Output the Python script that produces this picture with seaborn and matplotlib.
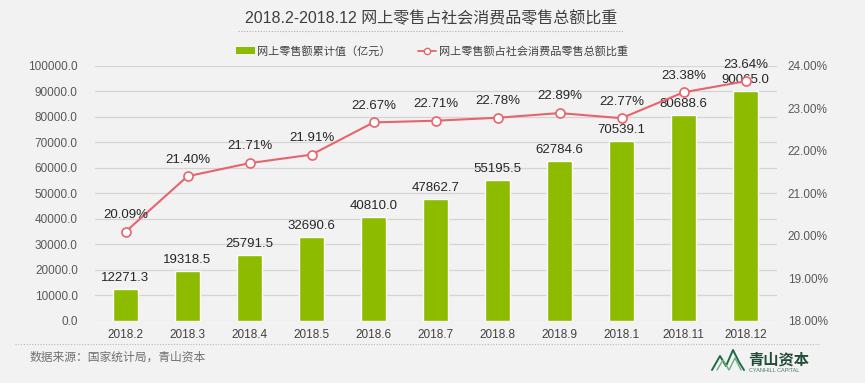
import matplotlib
matplotlib.use("Agg")
import matplotlib.pyplot as plt
import seaborn as sns
import pandas as pd
from matplotlib.lines import Line2D
from matplotlib.patches import Patch

categories = ["2018.2", "2018.3", "2018.4", "2018.5", "2018.6", "2018.7",
              "2018.8", "2018.9", "2018.1", "2018.11", "2018.12"]
online_sales = [12271.3, 19318.5, 25791.5, 32690.6, 40810.0, 47862.7,
                55195.5, 62784.6, 70539.1, 80688.6, 90065.0]
share_pct = [20.09, 21.40, 21.71, 21.91, 22.67, 22.71, 22.78, 22.89, 22.77, 23.38, 23.64]
left_ticks = [0, 10000, 20000, 30000, 40000, 50000, 60000, 70000, 80000, 90000, 100000]
right_ticks = [18, 19, 20, 21, 22, 23, 24]

title = "2018.2-2018.12 网上零售占社会消费品零售总额比重"
bar_label = "网上零售额累计值（亿元）"
line_label = "网上零售额占社会消费品零售总额比重"
source = "数据来源：国家统计局，青山资本"

BG = "#f2f2f2"
GREEN = "#8cbb00"
RED = "#e8646c"
TXT = "#404040"
TICK = "#595959"

sns.set_theme(style="white")
plt.rcParams["font.family"] = ["Liberation Sans", "Noto Sans CJK SC", "DejaVu Sans"]

df = pd.DataFrame({"month": categories, "sales": online_sales, "share": share_pct})

fig = plt.figure(figsize=(8.65, 3.83), dpi=100, facecolor=BG)
ax = fig.add_axes([94.5 / 865, 1 - 320.5 / 383, (776.5 - 94.5) / 865, (320.5 - 66) / 383])
ax.set_facecolor(BG)

sns.barplot(data=df, x="month", y="sales", color=GREEN, width=0.4, saturation=1,
            ax=ax, zorder=2)
ax.set_ylim(0, 100000)
ax.set_xlim(-0.5, len(categories) - 0.5)
ax.set_yticks(left_ticks)
ax.set_yticklabels([f"{v:.1f}" for v in left_ticks], color=TICK, fontsize=8.5)
ax.tick_params(axis="x", colors=TXT, labelsize=8.5, length=0, pad=6)
ax.tick_params(axis="y", length=0, pad=12)
ax.grid(axis="y", color="#d4d4d4", linewidth=0.9, zorder=0)
ax.set_axisbelow(True)
ax.set_xlabel("")
ax.set_ylabel("")
for s in ax.spines.values():
    s.set_visible(False)

for i, v in enumerate(online_sales):
    ax.annotate(f"{v:.1f}", (i, v), xytext=(0, 8), textcoords="offset points",
                ha="center", va="center", fontsize=9.5, color="#262626", zorder=5)

ax2 = ax.twinx()
sns.lineplot(data=df, x="month", y="share", color=RED, linewidth=1.5, marker="o",
             markersize=6.5, markerfacecolor="white", markeredgecolor=RED,
             markeredgewidth=1.2, ax=ax2, zorder=4)
ax2.set_ylim(18, 24)
ax2.set_yticks(right_ticks)
ax2.set_yticklabels([f"{v:.2f}%" for v in right_ticks], color=TICK, fontsize=8.5)
ax2.tick_params(axis="y", length=0, pad=8)
ax2.set_xlim(-0.5, len(categories) - 0.5)
ax2.set_xlabel("")
ax2.set_ylabel("")
for s in ax2.spines.values():
    s.set_visible(False)

for i, v in enumerate(share_pct):
    ax2.annotate(f"{v:.2f}%", (i, v), xytext=(0, 12), textcoords="offset points",
                 ha="center", va="center", fontsize=9.5, color="#262626", zorder=6)

# Title and decorations
fig.text(431 / 865, 1 - 18 / 383, title, ha="center", va="center", fontsize=11.5, color=TXT)
fig.add_artist(Line2D([238 / 865, 623 / 865], [1 - 31 / 383, 1 - 31 / 383],
                      color="#b0b0b0", linewidth=0.8, linestyle=(0, (1, 1.5))))

handles = [Patch(facecolor=GREEN, edgecolor="none"),
           Line2D([0], [0], color=RED, linewidth=1.3, marker="o", markersize=4.5,
                  markerfacecolor="white", markeredgecolor=RED)]
leg = fig.legend(handles, [bar_label, line_label], loc="center",
                 bbox_to_anchor=(432 / 865, 1 - 51 / 383), ncol=2, frameon=False,
                 fontsize=8, handlelength=1.7, handleheight=0.5, columnspacing=2.4,
                 handletextpad=0.2)
for t in leg.get_texts():
    t.set_color(TXT)

fig.add_artist(Line2D([15 / 865, 820 / 865], [1 - 344 / 383, 1 - 344 / 383],
                      color="#b8b8b8", linewidth=0.8, linestyle=(0, (1, 1.5))))
fig.text(30 / 865, 1 - 358 / 383, source, ha="left", va="center", fontsize=8.5, color="#707070")

# logo
DG = "#1d6b47"
LG = "#6fae7a"
def fx(x):
    return x / 865
def fy(y):
    return 1 - y / 383
fig.add_artist(Line2D([fx(712), fx(720), fx(726), fx(733), fx(739), fx(744)],
                      [fy(370), fy(356), fy(366), fy(350), fy(362), fy(370)],
                      color=DG, linewidth=1.4))
fig.add_artist(Line2D([fx(717), fx(723), fx(729), fx(735), fx(741)],
                      [fy(370), fy(360), fy(370), fy(358), fy(370)],
                      color=LG, linewidth=1.0))
fig.text(fx(748), fy(360), "青山资本", ha="left", va="center", fontsize=11,
         fontweight="bold", color="#234c3a", family=["Noto Sans CJK SC", "DejaVu Sans"])
fig.text(fx(749), fy(371), "CYANHILL CAPITAL", ha="left", va="center", fontsize=4,
         color="#4d7a63")

fig.savefig("out.png", dpi=100, facecolor=BG)
